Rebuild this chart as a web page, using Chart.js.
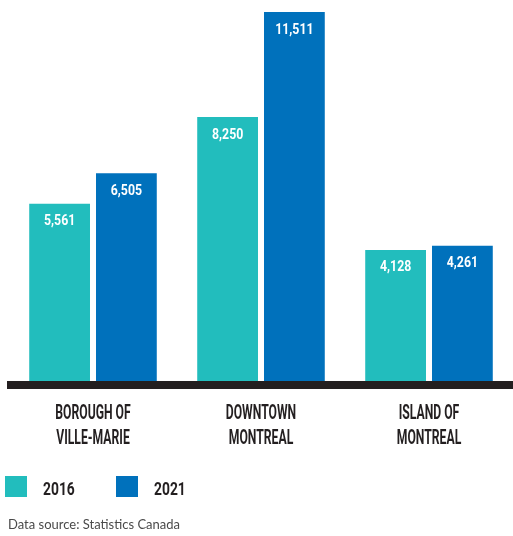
<!DOCTYPE html>
<html>
<head>
<meta charset="utf-8">
<script src="https://cdn.jsdelivr.net/npm/chart.js@4"></script>
<style>
  html, body { margin: 0; padding: 0; background: #fff; }
  #wrap { position: relative; width: 513px; height: 536px; }
  #source {
    position: absolute; left: 8px; top: 516px; margin: 0;
    font: 13px Lato, sans-serif; color: #4a4a4a;
  }
</style>
</head>
<body>
<div id="wrap">
  <canvas id="chart" width="513" height="536"></canvas>
  <p id="source">Data source: Statistics Canada</p>
</div>
<script>
const categories = [
    ['BOROUGH OF', 'VILLE-MARIE'],
    ['DOWNTOWN', 'MONTREAL'],
    ['ISLAND OF', 'MONTREAL']
];
const values2016 = [5561, 8250, 4128];
const values2021 = [6505, 11511, 4261];
const seriesNames = ['2016', '2021'];
const colors = ['#22bdbd', '#0071bc'];

const INK = '#231f20';

// draw text squeezed horizontally (the headline face is very narrow)
function squeezed(ctx, text, x, y, sx) {
    ctx.save();
    ctx.translate(x, y);
    ctx.scale(sx, 1);
    ctx.fillText(text, 0, 0);
    ctx.restore();
}

const decor = {
    id: 'decor',
    afterDatasetsDraw(chart) {
        const ctx = chart.ctx;
        const area = chart.chartArea;
        const xs = chart.scales.x;
        const base = area.bottom - 2;

        // thick baseline, sits over the foot of the bars
        ctx.fillStyle = INK;
        ctx.fillRect(7, base, chart.width - 7, 8);

        // value labels inside bars
        ctx.fillStyle = '#fff';
        ctx.font = '700 14px Roboto';
        ctx.textAlign = 'center';
        ctx.textBaseline = 'middle';
        chart.data.datasets.forEach((ds, di) => {
            chart.getDatasetMeta(di).data.forEach((bar, i) => {
                squeezed(ctx, ds.data[i].toLocaleString('en-US'), bar.x, bar.y + 18, 0.88);
            });
        });

        // category labels
        ctx.fillStyle = INK;
        ctx.font = '700 21px Roboto';
        ctx.textBaseline = 'alphabetic';
        categories.forEach((lines, i) => {
            const x = xs.getPixelForValue(i);
            lines.forEach((t, li) => {
                squeezed(ctx, t, x, base + 38 + li * 25, 0.58);
            });
        });

        // legend
        ctx.font = '700 18px Roboto';
        ctx.textAlign = 'left';
        chart.data.datasets.forEach((ds, di) => {
            const x = 5 + di * 111;
            ctx.fillStyle = ds.backgroundColor;
            ctx.fillRect(x, 476, 22, 21);
            ctx.fillStyle = INK;
            squeezed(ctx, ds.label, x + 38, 495, 0.77);
        });
    }
};

new Chart(document.getElementById('chart'), {
    type: 'bar',
    data: {
        labels: categories.map(c => c.join(' ')),
        datasets: [
            { label: seriesNames[0], data: values2016, backgroundColor: colors[0] },
            { label: seriesNames[1], data: values2021, backgroundColor: colors[1] }
        ]
    },
    options: {
        responsive: false,
        animation: false,
        layout: { padding: { top: 12, left: 9, right: 0, bottom: 153 } },
        datasets: { bar: { categoryPercentage: 0.795, barPercentage: 0.91, borderWidth: 0 } },
        scales: {
            x: { display: false },
            y: { display: false, min: 0, max: Math.max(...values2016, ...values2021) }
        },
        plugins: { legend: { display: false }, tooltip: { enabled: false } }
    },
    plugins: [decor]
});
</script>
</body>
</html>
